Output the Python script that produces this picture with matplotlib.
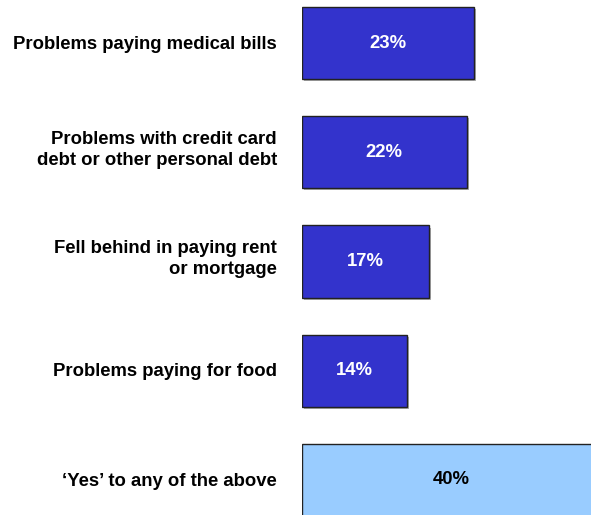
import matplotlib
matplotlib.use("Agg")
import matplotlib.pyplot as plt
import matplotlib.patheffects as pe

categories = [
    "Problems paying medical bills",
    "Problems with credit card\ndebt or other personal debt",
    "Fell behind in paying rent\nor mortgage",
    "Problems paying for food",
    "\u2018Yes\u2019 to any of the above",
]
values = [23, 22, 17, 14, 40]
colors = ["#3333CC", "#3333CC", "#3333CC", "#3333CC", "#99CCFF"]
text_colors = ["white", "white", "white", "white", "black"]

plt.rcParams["font.family"] = ["Liberation Sans", "DejaVu Sans"]

fig = plt.figure(figsize=(5.91, 5.15), dpi=100)
ax = fig.add_axes([302 / 591, 0, 289 / 591, 1])

pos = list(range(len(values)))
bars = ax.barh(pos, values, height=0.66, color=colors, edgecolor="#222222", linewidth=1.0)
for b in bars:
    b.set_path_effects([
        pe.SimplePatchShadow(offset=(1.5, -1.5), shadow_rgbFace="#999999", alpha=0.8),
        pe.Normal(),
    ])
ax.set_xlim(0, 289 / 7.48)
ax.set_ylim(4 + 35 / 109.25, -43 / 109.25)

for y, v, tc in zip(pos, values, text_colors):
    ax.text(v / 2, y, f"{v}%", ha="center", va="center", color=tc,
            fontsize=13.3, fontweight="bold")

for y, label in zip(pos, categories):
    dy = -0.02 if "\n" in label else 0.01
    ax.text(-25 / 7.48, y + dy, label, ha="right", va="center", fontsize=13.3,
            fontweight="bold", color="black", linespacing=1.32, clip_on=False)

ax.axis("off")
fig.savefig("out.png", dpi=100)
